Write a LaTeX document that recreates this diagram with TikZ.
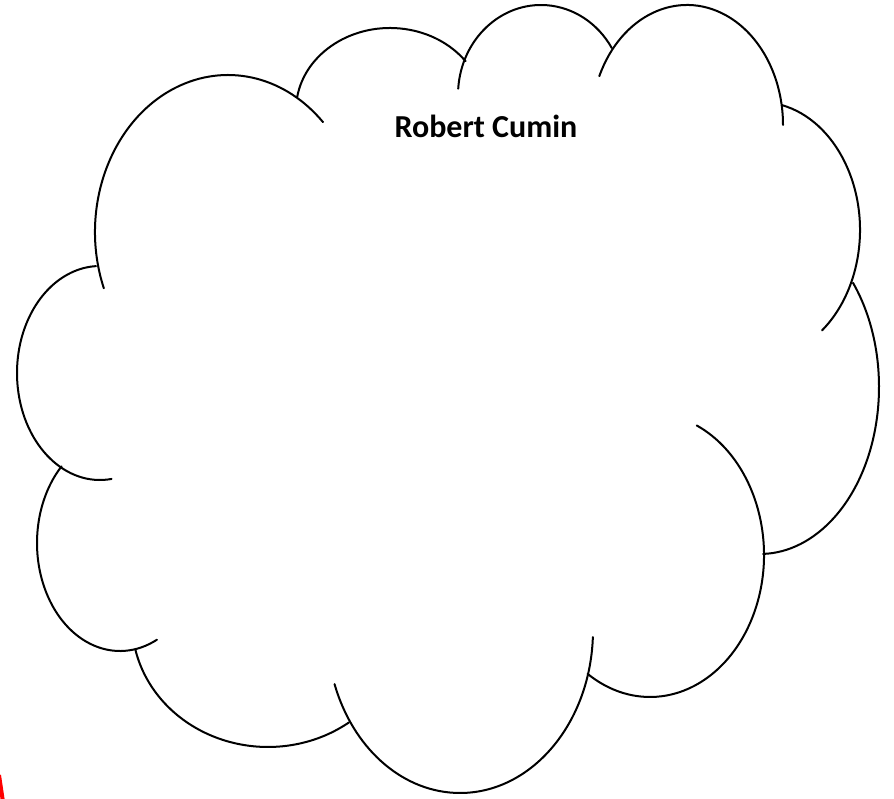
\documentclass[tikz,border=0pt]{standalone}
\usepackage{fontspec}
\setmainfont{Carlito}
\begin{document}
\begin{tikzpicture}[x=1pt, y=1pt, puff/.style={line width=2pt, line cap=round}]
  \useasboundingbox (0,0) rectangle (894,798);

  \foreach \cx/\cy/\rx/\ry/\sa/\ea in {
      228/566/133/157/201/44.4,
      390/688/94/82/171/36.5,
      541/703/83/90/176/31.4,
      687/673/96/120/156/0,
      760/568/100/128/77.3/-51.7,
      760/411/119/167/38.6/-88.5,
      650/243/114/142/65.8/-123.2,
      460/168/133/163/-2.5/-160.6,
      268/176/136/125/-53.5/-167.2,
      120/255/83/108/-63.6/-225.2,
      100/425/83/107/-82/-267.2}
    \draw[puff] (\cx,\cy) ++({\rx*cos(\sa)},{\ry*sin(\sa)})
      arc[start angle=\sa, end angle=\ea, x radius=\rx, y radius=\ry];

  \node[font=\fontsize{32}{38}\selectfont\bfseries] (title) at (486,672) {Robert Cumin};

  \begin{scope}
    \clip (0,0) rectangle (894,798);
    \draw[red, line width=4pt] (-1,23) -- (3,-4);
  \end{scope}
\end{tikzpicture}
\end{document}
